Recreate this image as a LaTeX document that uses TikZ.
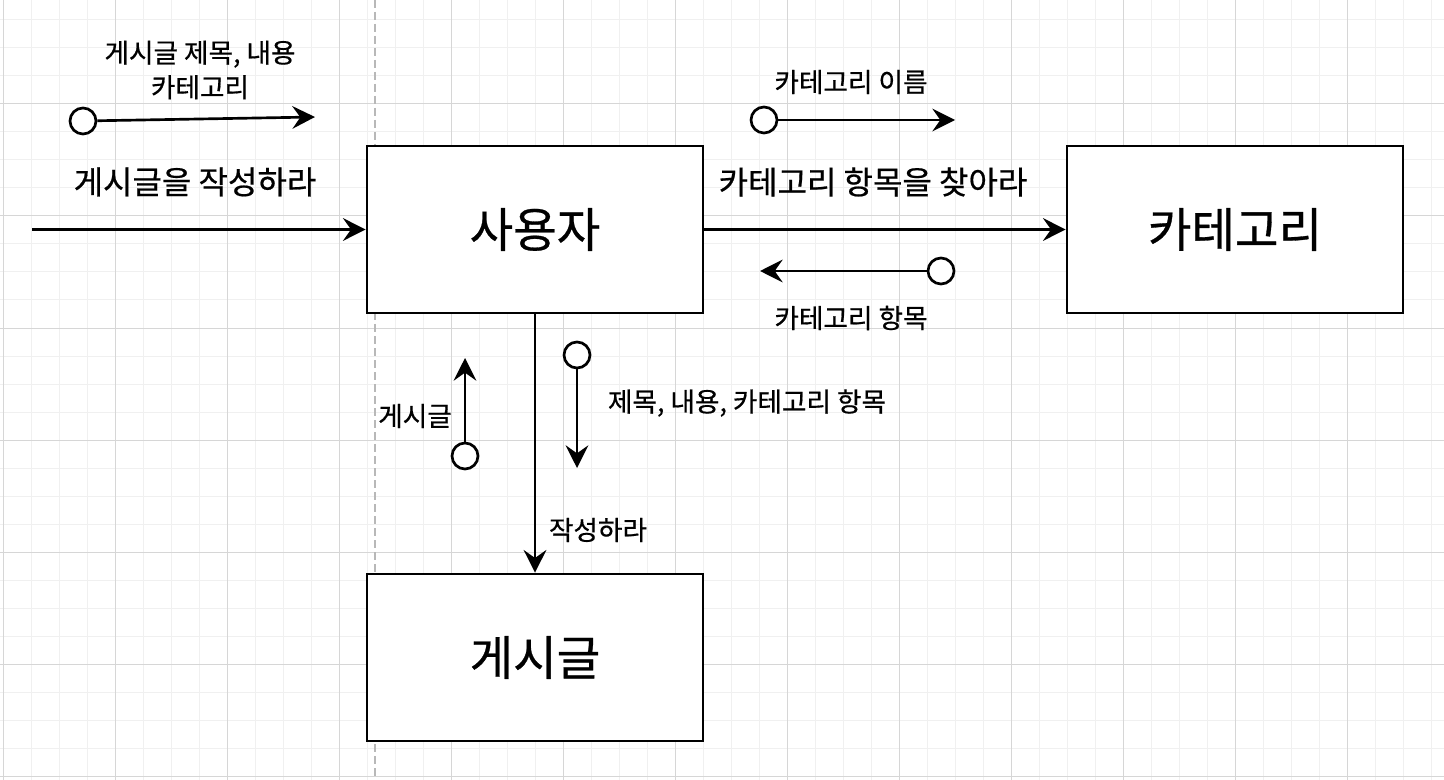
\documentclass[tikz,border=0pt]{standalone}
\usepackage{fontspec}
\setmainfont{Noto Sans CJK KR}[RawFeature={embolden=0.6}]
\usetikzlibrary{arrows.meta}
\definecolor{minorgrid}{HTML}{F0F0F0}
\definecolor{majorgrid}{HTML}{D6D6D6}
\definecolor{dashgray}{HTML}{B8B8B8}
\begin{document}
\begin{tikzpicture}[x=0.75pt,y=-0.75pt,
  box/.style={draw=black,fill=white,line width=2pt,minimum width=252pt,minimum height=125.25pt,inner sep=0pt,font=\fontsize{35.5pt}{40pt}\selectfont},
  circ/.style={draw=black,fill=white,line width=2pt,circle,minimum size=19.5pt,inner sep=0pt},
  arr/.style={line width=2pt,-{Stealth[length=17pt,width=17pt,inset=6pt]}},
  lblS/.style={inner sep=0pt,font=\fontsize{20pt}{26pt}\selectfont,align=center},
  lblM/.style={inner sep=0pt,font=\fontsize{24pt}{28pt}\selectfont}
]
\useasboundingbox (0,0) rectangle (1444,780);
\fill[white] (0,0) rectangle (1444,780);
% grid
\foreach \i in {0,...,51} {
  \draw[minorgrid,line width=0.75pt] ({3+28*\i},0) -- ({3+28*\i},780);
}
\foreach \j in {0,...,27} {
  \draw[minorgrid,line width=0.75pt] (0,{-8+28*\j}) -- (1444,{-8+28*\j});
}
\foreach \i in {0,...,12} {
  \draw[majorgrid,line width=0.75pt] ({3+112*\i},0) -- ({3+112*\i},780);
}
\foreach \j in {1,...,7} {
  \draw[majorgrid,line width=0.75pt] (0,{-8+112*\j}) -- (1444,{-8+112*\j});
}
% dashed separator
\draw[dashgray,line width=1pt,dash pattern=on 6pt off 3pt] (375,0) -- (375,780);

% boxes
\node[box] (user) at (535,229.5) {사용자};
\node[box] (cat) at (1235,229.5) {카테고리};
\node[box] (post) at (535,657.5) {게시글};

% main connectors
\coordinate (start) at (32,229.5);
\draw[arr] (start) -- (user.west);
\draw[arr] (user.east) -- (cat.west);
\draw[arr] (user.south) -- (post.north);

% data flow markers
\node[circ] (c1) at (83,121) {};
\coordinate (e1) at (315,117);
\draw[arr] (c1) -- (e1);

\node[circ] (c2) at (764,120) {};
\coordinate (e2) at (955,120);
\draw[arr] (c2) -- (e2);

\node[circ] (c3) at (941,271) {};
\coordinate (e3) at (760,271);
\draw[arr] (c3) -- (e3);

\node[circ] (c4) at (465,456) {};
\coordinate (e4) at (465,358);
\draw[arr] (c4) -- (e4);

\node[circ] (c5) at (577,355) {};
\coordinate (e5) at (577,468);
\draw[arr] (c5) -- (e5);

% labels
\node[lblS] (l1) at (200,70) {게시글 제목, 내용\\카테고리};
\node[lblM] (l2) at (195,182) {게시글을 작성하라};
\node[lblS] (l3) at (851,82) {카테고리 이름};
\node[lblM] (l4) at (873,182) {카테고리 항목을 찾아라};
\node[lblS] (l5) at (851,318) {카테고리 항목};
\node[lblS] (l6) at (415,416) {게시글};
\node[lblS] (l7) at (747,403) {제목, 내용, 카테고리 항목};
\node[lblS] (l8) at (598,530) {작성하라};
\end{tikzpicture}
\end{document}
